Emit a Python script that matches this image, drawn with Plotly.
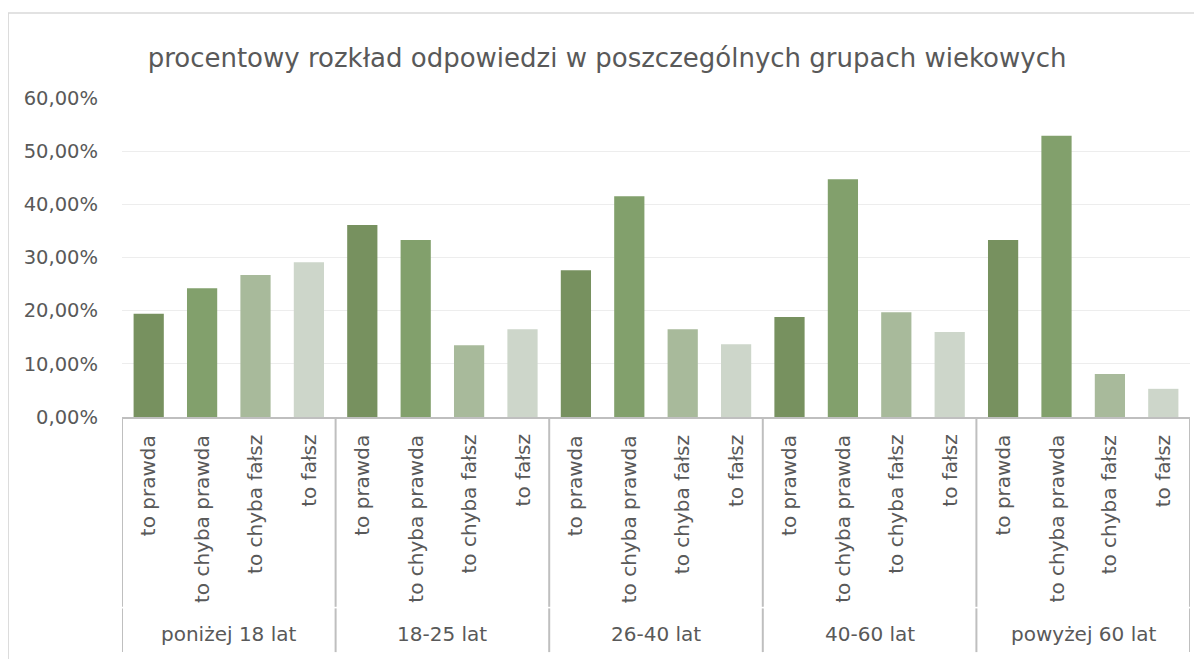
import plotly.graph_objects as go

# Data (percent)
groups = ['poniżej 18 lat', '18-25 lat', '26-40 lat', '40-60 lat', 'powyżej 60 lat']
answers = ['to prawda', 'to chyba prawda', 'to chyba fałsz', 'to fałsz']
to_prawda = [19.4, 36.1, 27.6, 18.8, 33.3]
to_chyba_prawda = [24.2, 33.3, 41.5, 44.7, 52.9]
to_chyba_falsz = [26.7, 13.5, 16.5, 19.7, 8.1]
to_falsz = [29.1, 16.5, 13.7, 16.0, 5.3]
y_ticks = [0, 10, 20, 30, 40, 50, 60]
y_tick_labels = ['0,00%', '10,00%', '20,00%', '30,00%', '40,00%', '50,00%', '60,00%']

series = [to_prawda, to_chyba_prawda, to_chyba_falsz, to_falsz]
colors = ['#77915F', '#82A06C', '#A8BA9B', '#CDD6CA']
text_color = '#595959'
font = 'DejaVu Sans'

n_ans = len(answers)
xs, ys, cs = [], [], []
for g in range(len(groups)):
    for a in range(n_ans):
        xs.append(g * n_ans + a)
        ys.append(series[a][g])
        cs.append(colors[a])

fig = go.Figure(go.Bar(x=xs, y=ys, marker=dict(color=cs, line=dict(width=0)),
                       width=0.566, hoverinfo='y'))

annotations = []
shapes = []
# inner category labels (rotated)
for i, x in enumerate(xs):
    annotations.append(dict(
        x=x, y=-0.05, xref='x', yref='paper', text=answers[i % n_ans],
        textangle=-90, xanchor='center', yanchor='top', showarrow=False,
        font=dict(family=font, size=20, color=text_color)))
# outer group labels
for g, name in enumerate(groups):
    annotations.append(dict(
        x=g * n_ans + (n_ans - 1) / 2, y=-0.68, xref='x', yref='paper', text=name,
        xanchor='center', yanchor='middle', showarrow=False,
        font=dict(family=font, size=20, color=text_color)))
# group dividers
for g in range(len(groups) + 1):
    xb = g * n_ans - 0.5
    shapes.append(dict(type='line', xref='x', yref='paper', x0=xb, x1=xb,
                       y0=0, y1=-0.595, line=dict(color='#BFBFBF', width=2)))
    shapes.append(dict(type='line', xref='x', yref='paper', x0=xb, x1=xb,
                       y0=-0.6, y1=-0.737, line=dict(color='#BFBFBF', width=2)))
# outer chart border
shapes.append(dict(type='rect', xref='paper', yref='paper', x0=-0.1066, x1=1.1,
                   y0=-0.8, y1=1.2665, line=dict(color='#D9D9D9', width=1.5),
                   layer='below'))

fig.update_layout(
    width=1194, height=651,
    margin=dict(l=114, r=12, t=90, b=242),
    paper_bgcolor='white', plot_bgcolor='white',
    title=dict(text='procentowy rozkład odpowiedzi w poszczególnych grupach wiekowych',
               x=0.5017, xref='container', xanchor='center', y=0.924, yanchor='middle',
               font=dict(family=font, size=26, color=text_color)),
    xaxis=dict(range=[-0.5, len(xs) - 0.5], showticklabels=False, showgrid=False,
               zeroline=False, showline=True, linecolor='#BFBFBF', linewidth=2,
               fixedrange=True),
    yaxis=dict(range=[0, 60], tickvals=y_ticks, ticktext=y_tick_labels,
               showgrid=True, gridcolor='#EDEDED', gridwidth=1, zeroline=False,
               showline=False, ticks='', ticklen=0, ticklabelstandoff=23,
               tickfont=dict(family=font, size=19.5, color=text_color), fixedrange=True),
    annotations=annotations,
    shapes=shapes,
    showlegend=False,
)

fig.write_html('out.html')
